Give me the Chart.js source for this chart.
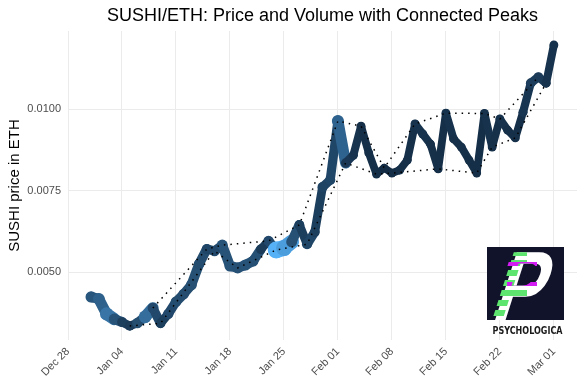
<!DOCTYPE html>
<html>
<head>
<meta charset="utf-8">
<script src="https://cdn.jsdelivr.net/npm/chart.js@4.4.1/dist/chart.umd.min.js"></script>
<style>
  body { margin: 0; background: #ffffff; }
</style>
</head>
<body>
<canvas id="grafico" width="584" height="389"></canvas>
<script>
// Datos
const dates = [
  "2020-12-31",
  "2021-01-01", "2021-01-02", "2021-01-03", "2021-01-04", "2021-01-05", "2021-01-06", "2021-01-07",
  "2021-01-08", "2021-01-09", "2021-01-10", "2021-01-11", "2021-01-12", "2021-01-13", "2021-01-14",
  "2021-01-15", "2021-01-16", "2021-01-17", "2021-01-18", "2021-01-19", "2021-01-20", "2021-01-21",
  "2021-01-22", "2021-01-23", "2021-01-24", "2021-01-25", "2021-01-26", "2021-01-27", "2021-01-28",
  "2021-01-29", "2021-01-30", "2021-01-31",
  "2021-02-01", "2021-02-02", "2021-02-03", "2021-02-04", "2021-02-05", "2021-02-06", "2021-02-07",
  "2021-02-08", "2021-02-09", "2021-02-10", "2021-02-11", "2021-02-12", "2021-02-13", "2021-02-14",
  "2021-02-15", "2021-02-16", "2021-02-17", "2021-02-18", "2021-02-19", "2021-02-20", "2021-02-21",
  "2021-02-22", "2021-02-23", "2021-02-24", "2021-02-25", "2021-02-26", "2021-02-27", "2021-02-28",
  "2021-03-01"
];

const prices = [
  0.00424,
  0.00418, 0.00372, 0.00356, 0.00347, 0.00335, 0.00344, 0.00363,
  0.00390, 0.00343, 0.00372, 0.00409, 0.00433, 0.00461, 0.00525,
  0.00571, 0.00565, 0.00583, 0.00519, 0.00513, 0.00522, 0.00534,
  0.00570, 0.00596, 0.00568, 0.00574, 0.00593, 0.00645, 0.00586,
  0.00623, 0.00761, 0.00783,
  0.00964, 0.00835, 0.00859, 0.00948, 0.00866, 0.00801, 0.00820,
  0.00804, 0.00813, 0.00844, 0.00955, 0.00924, 0.00893, 0.00817,
  0.00988, 0.00909, 0.00884, 0.00844, 0.00804, 0.00987, 0.00884,
  0.00970, 0.00936, 0.00912, 0.00991, 0.01080, 0.01099, 0.01080,
  0.01197
];

const volumes = [
  148,
  180, 240, 140, 80, 68, 120, 220,
  108, 80, 108, 120, 120, 132, 120,
  100, 108, 140, 140, 132, 140, 132,
  68, 110, 420, 360, 132, 80, 100,
  80, 92, 100,
  188, 60, 44, 36, 32, 32, 20,
  28, 32, 36, 44, 40, 36, 32,
  40, 36, 36, 32, 32, 40, 36,
  40, 36, 36, 52, 76, 68, 44,
  40
];

const tickDates = ["2020-12-28", "2021-01-04", "2021-01-11", "2021-01-18", "2021-01-25",
                   "2021-02-01", "2021-02-08", "2021-02-15", "2021-02-22", "2021-03-01"];
const tickLabels = ["Dec 28", "Jan 04", "Jan 11", "Jan 18", "Jan 25",
                    "Feb 01", "Feb 08", "Feb 15", "Feb 22", "Mar 01"];
const yTicks = [0.0050, 0.0075, 0.0100];

// dias desde el primer tick
const origen = Date.parse(tickDates[0]);
const toDay = d => (Date.parse(d) - origen) / 86400000;

const xs = dates.map(toDay);
const puntos = xs.map((x, i) => ({ x: x, y: prices[i] }));

// picos y valles locales
const picos = [];
const valles = [];
for (let i = 1; i < prices.length - 1; i++) {
  if (prices[i] > prices[i - 1] && prices[i] > prices[i + 1]) picos.push(puntos[i]);
  if (prices[i] < prices[i - 1] && prices[i] < prices[i + 1]) valles.push(puntos[i]);
}

// escala de color tipo ggplot (#132B43 -> #56B1F7)
const vMin = Math.min(...volumes);
const vMax = Math.max(...volumes);
const bajo = [0x13, 0x2B, 0x43];
const alto = [0x56, 0xB1, 0xF7];
function frac(i) { return (volumes[i] - vMin) / (vMax - vMin); }
function colorVol(i) {
  const t = frac(i);
  const c = bajo.map((b, k) => Math.round(b + (alto[k] - b) * t));
  return "rgb(" + c.join(",") + ")";
}
function anchoVol(i) { return 7.5 + 8.5 * frac(i); }

// limites con expansion del 5%
const xMin = Math.min(...xs), xMax = Math.max(...xs);
const yMin = Math.min(...prices), yMax = Math.max(...prices);
const xPad = (xMax - xMin) * 0.05, yPad = (yMax - yMin) * 0.05;

const fuente = "'Liberation Sans', Arial, Helvetica, sans-serif";
Chart.defaults.font.family = fuente;

// logo dibujado en la esquina
const logo = {
  id: "logo",
  afterDraw(chart) {
    const c = chart.ctx;
    const x = 487, y = 247, w = 77, h = 73;
    c.save();
    c.fillStyle = "#11132a";
    c.fillRect(x, y, w, h);
    c.beginPath();
    c.rect(x, y, w, h);
    c.clip();
    c.font = "bold 100px " + fuente;
    c.textBaseline = "alphabetic";
    const dibujarP = (dx, color) => {
      c.save();
      c.translate(x + 3 + dx, y + h + 1);
      c.transform(0.72, 0, -0.32, 1, 0, 0);
      c.fillStyle = color;
      c.fillText("P", 0, 0);
      c.restore();
    };
    dibujarP(0, "#ffffff");
    c.save();
    c.beginPath();
    for (let k = 0; k < 8; k++) c.rect(x, y + 3 + k * 10, 40, 6);
    c.clip();
    dibujarP(-3, "#5ee56f");
    c.restore();
    c.save();
    c.beginPath();
    for (let k = 0; k < 4; k++) c.rect(x + 20, y + 15 + k * 20, 30, 4);
    c.clip();
    dibujarP(-5, "#d21cf2");
    c.restore();
    c.restore();
    c.save();
    c.fillStyle = "#1a1a1a";
    c.font = "bold 10px 'DejaVu Sans Condensed', 'DejaVu Sans', sans-serif";
    c.textAlign = "center";
    c.textBaseline = "middle";
    c.fillText("PSYCHOLOGICA", x + w / 2 + 2, y + h + 11, 70);
    c.restore();
  }
};

const ctx = document.getElementById("grafico").getContext("2d");
new Chart(ctx, {
  type: "line",
  data: {
    datasets: [
      {
        label: "Picos",
        data: picos,
        borderColor: "#000000",
        borderWidth: 1.5,
        borderDash: [1.5, 5],
        pointRadius: 0,
        tension: 0,
        order: 0
      },
      {
        label: "Valles",
        data: valles,
        borderColor: "#000000",
        borderWidth: 1.5,
        borderDash: [1.5, 5],
        pointRadius: 0,
        tension: 0,
        order: 0
      },
      {
        label: "Precio",
        data: puntos,
        borderCapStyle: "round",
        borderJoinStyle: "round",
        borderColor: "#132B43",
        borderWidth: 8,
        segment: {
          borderColor: s => colorVol(s.p0DataIndex),
          borderWidth: s => anchoVol(s.p0DataIndex)
        },
        pointRadius: c => anchoVol(c.dataIndex) / 2 + 0.5,
        pointBackgroundColor: c => colorVol(c.dataIndex),
        pointBorderWidth: 0,
        tension: 0,
        order: 1
      }
    ]
  },
  options: {
    responsive: false,
    animation: false,
    layout: { padding: { left: 0, right: 7, top: 0, bottom: 0 } },
    plugins: {
      legend: { display: false },
      tooltip: { enabled: false },
      title: {
        display: true,
        text: "SUSHI/ETH: Price and Volume with Connected Peaks",
        color: "#000000",
        fullSize: false,
        font: { size: 18, weight: "normal" },
        padding: { top: 5, bottom: 4.4 }
      }
    },
    scales: {
      x: {
        type: "linear",
        min: xMin - xPad,
        max: xMax + xPad,
        afterFit: s => { s.height = 49; },
        afterBuildTicks: s => { s.ticks = tickDates.map(d => ({ value: toDay(d) })); },
        border: { display: false },
        grid: { color: "#ebebeb", lineWidth: 1, drawTicks: false },
        ticks: {
          autoSkip: false,
          minRotation: 45,
          maxRotation: 45,
          padding: 5,
          color: "#4d4d4d",
          font: { size: 11 },
          callback: (v, i) => tickLabels[i]
        }
      },
      y: {
        min: yMin - yPad,
        max: yMax + yPad,
        afterFit: s => { s.width = 68; },
        afterBuildTicks: s => { s.ticks = yTicks.map(v => ({ value: v })); },
        border: { display: false },
        grid: { color: "#ebebeb", lineWidth: 1, drawTicks: false },
        title: {
          display: true,
          text: "SUSHI price in ETH",
          color: "#000000",
          font: { size: 15 },
          padding: { top: 6, bottom: 0 }
        },
        ticks: {
          padding: 7,
          color: "#4d4d4d",
          font: { size: 11 },
          callback: v => v.toFixed(4)
        }
      }
    }
  },
  plugins: [logo]
});
</script>
</body>
</html>
